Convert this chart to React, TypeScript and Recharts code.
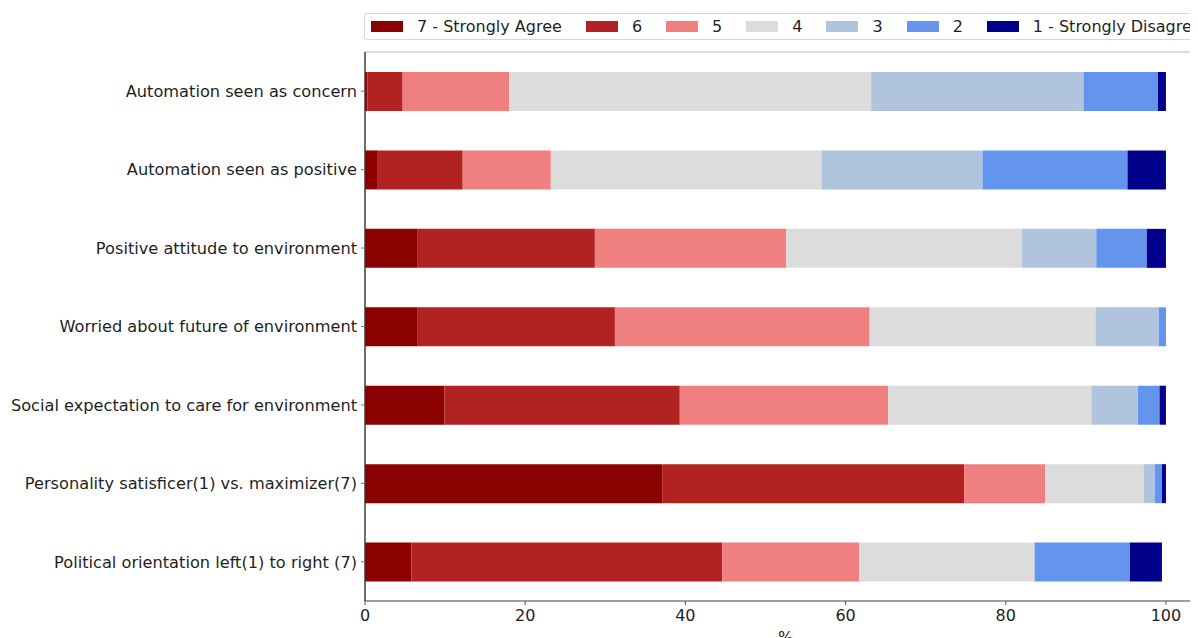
import { BarChart, Bar, XAxis, YAxis, ReferenceArea } from 'recharts'

// survey items, top to bottom
const categories = [
  'Automation seen as concern',
  'Automation seen as positive',
  'Positive attitude to environment',
  'Worried about future of environment',
  'Social expectation to care for environment',
  'Personality satisficer(1) vs. maximizer(7)',
  'Political orientation left(1) to right (7)',
]

// % of answers per Likert level
const level7 = [0.3, 1.6, 6.5, 6.5, 9.9, 37.1, 5.8]
const level6 = [4.4, 10.6, 22.2, 24.7, 29.4, 37.7, 38.8]
const level5 = [13.3, 11.0, 23.9, 31.8, 26.0, 10.1, 17.1]
const level4 = [45.2, 33.8, 29.4, 28.2, 25.4, 12.3, 21.9]
const level3 = [26.5, 20.1, 9.3, 7.9, 5.8, 1.4, 0]
const level2 = [9.3, 18.1, 6.3, 0.9, 2.7, 0.9, 11.9]
const level1 = [1.0, 4.8, 2.4, 0, 0.8, 0.5, 4.0]

const xTicks = [0, 20, 40, 60, 80, 100]

const levels = [
  { key: 'l7', name: '7 - Strongly Agree', color: '#8b0000', values: level7 },
  { key: 'l6', name: '6', color: '#b22222', values: level6 },
  { key: 'l5', name: '5', color: '#f08080', values: level5 },
  { key: 'l4', name: '4', color: '#dcdcdc', values: level4 },
  { key: 'l3', name: '3', color: '#b0c4de', values: level3 },
  { key: 'l2', name: '2', color: '#6495ed', values: level2 },
  { key: 'l1', name: '1 - Strongly Disagree', color: '#00008b', values: level1 },
]

const data = categories.map((name, i) => {
  const row: any = { name }
  levels.forEach((l) => {
    row[l.key] = l.values[i]
  })
  return row
})

const font = 'DejaVu Sans, sans-serif'

function LegendBox() {
  return (
    <div
      style={{
        position: 'absolute',
        top: 5,
        left: 356,
        display: 'flex',
        alignItems: 'center',
        height: 27,
        width: 880,
        boxSizing: 'border-box',
        border: '1px solid #d6d6d6',
        borderRadius: 3,
        background: '#fff',
        paddingLeft: 6,
        fontFamily: font,
        fontSize: 16,
        color: '#1f1f1f',
        whiteSpace: 'nowrap',
      }}
    >
      {levels.map((l) => (
        <div key={l.key} style={{ display: 'flex', alignItems: 'center', marginRight: 24 }}>
          <span style={{ width: 32, height: 11, background: l.color, marginRight: 14, display: 'inline-block' }} />
          <span>{l.name}</span>
        </div>
      ))}
    </div>
  )
}

export default function App() {
  // the figure runs past the window edges like the original; hide scrollbars
  return (
    <div style={{ position: 'relative', width: 1210, height: 630, overflow: 'hidden' }}>
      <style>{'html, body { overflow: hidden; }'}</style>
      <BarChart
        width={1210}
        height={630}
        data={data}
        layout="vertical"
        margin={{ top: 44, right: 12, bottom: 0, left: 0 }}
      >
        <XAxis
          type="number"
          domain={[0, 105]}
          ticks={xTicks}
          height={37}
          tickSize={4}
          tickMargin={5}
          tick={{ fill: '#1f1f1f', fontSize: 16, fontFamily: font }}
          axisLine={{ stroke: '#8a8a8a', strokeWidth: 1.6 }}
          tickLine={{ stroke: '#555' }}
          label={{ value: '%', position: 'insideBottom', offset: -5, fill: '#1f1f1f', fontSize: 16, fontFamily: font }}
        />
        <YAxis
          type="category"
          dataKey="name"
          width={357}
          tickSize={4}
          tickMargin={4}
          tick={{ fill: '#1f1f1f', fontSize: 16.2, fontFamily: font }}
          axisLine={{ stroke: '#333', strokeWidth: 1.3 }}
          tickLine={{ stroke: '#777' }}
        />
        <ReferenceArea x1={0} x2={105} fill="none" stroke="#b8b8b8" />
        {levels.map((l) => (
          <Bar
            key={l.key}
            dataKey={l.key}
            name={l.name}
            stackId="a"
            barSize={39}
            fill={l.color}
            isAnimationActive={false}
          />
        ))}
      </BarChart>
      <LegendBox />
    </div>
  )
}
